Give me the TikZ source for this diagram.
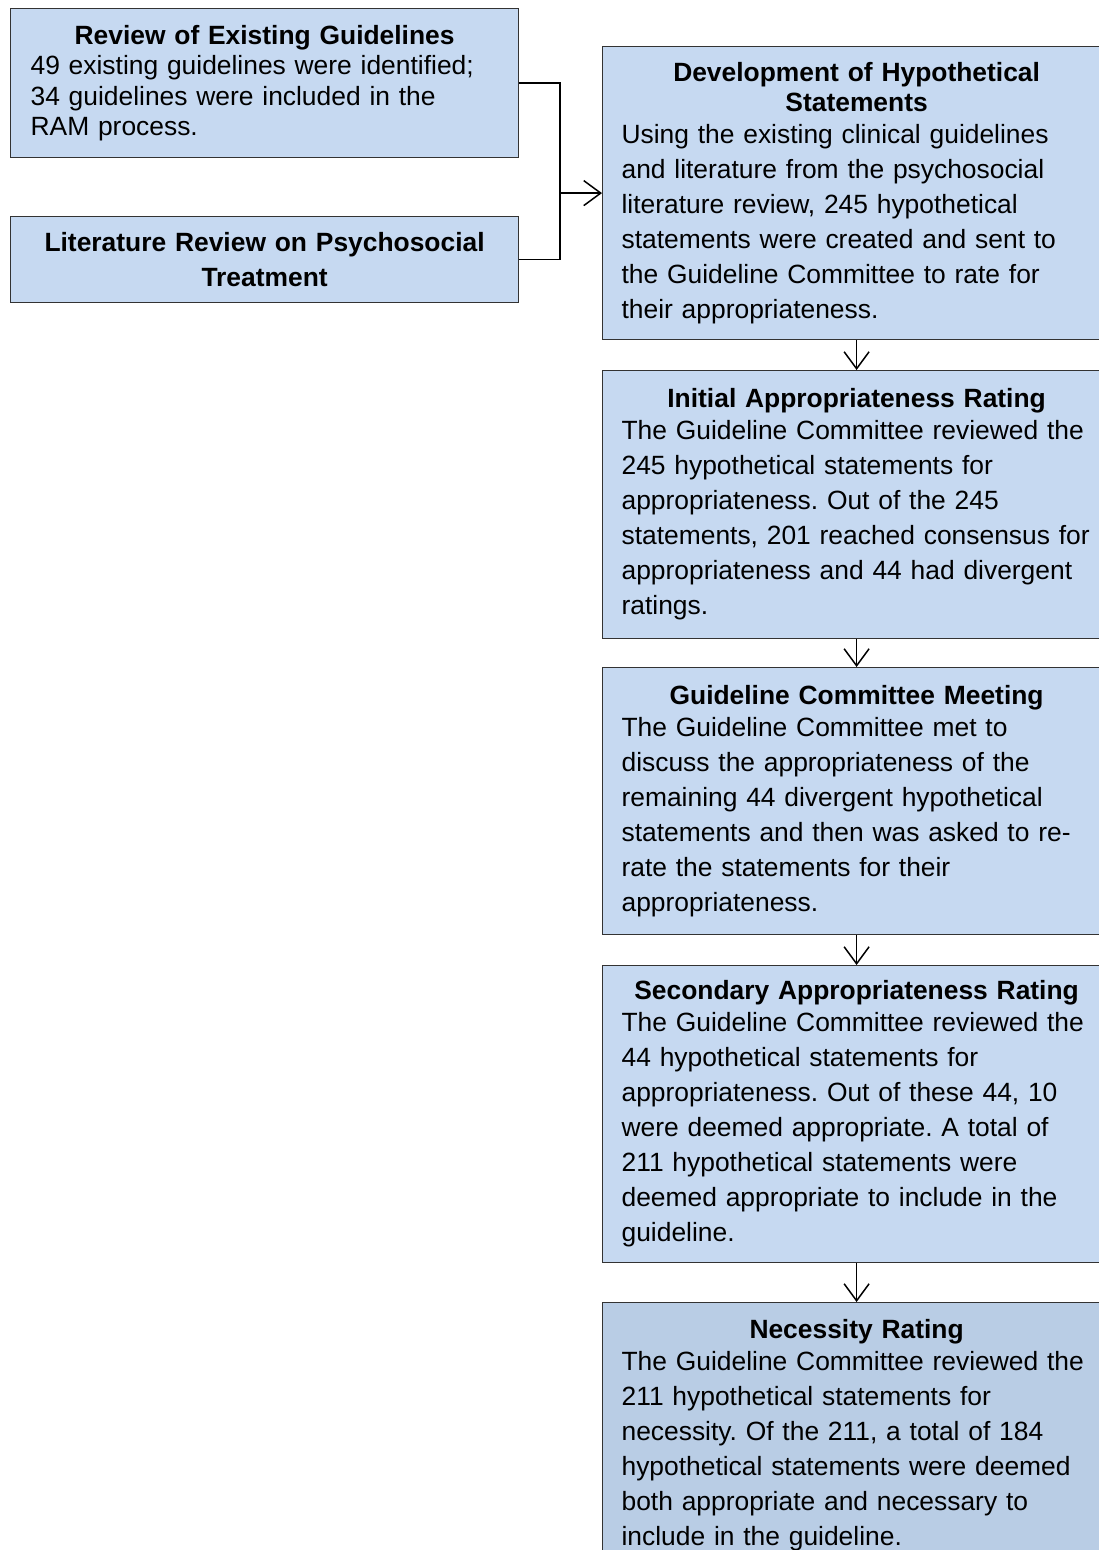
\documentclass[tikz,border=0pt]{standalone}
\usepackage{fontspec}
\setmainfont{Liberation Sans}
\usetikzlibrary{arrows.meta}
\definecolor{stagefill}{HTML}{C6D9F1}
\definecolor{needfill}{HTML}{B9CDE5}
\newcommand{\boxtitle}[1]{\makebox[\linewidth]{\bfseries #1}}
\frenchspacing

\begin{document}
\begin{tikzpicture}
[x=1pt,y=-1pt,
  stage/.style={shape=rectangle,draw=black!80,line width=1.2pt,fill=stagefill,
    anchor=north west,align=left,inner ysep=2pt},
  source/.style={stage,minimum width=508pt,text width=468pt,inner xsep=20pt},
  phase/.style={stage,minimum width=506pt,text width=470pt,inner xsep=19pt,
    font=\fontsize{26.4}{35}\selectfont},
  needphase/.style={phase,fill=needfill},
  link/.style={draw=black,line width=1.5pt},
  flow/.style={link,-{Straight Barb[length=17pt,width=25pt,line width=1.5pt]}}]

\useasboundingbox (0,0) rectangle (1099,1550);

\node [source,minimum height=149pt,font=\fontsize{26.4}{30.5}\selectfont] (guide) at (10,8)
  {\boxtitle{Review of Existing Guidelines}\\
   49 existing guidelines were identified;\\
   34 guidelines were included in the\\
   RAM process.};
\node [source,minimum height=86pt,font=\fontsize{26.4}{35}\selectfont] (lit) at (10,216)
  {\boxtitle{Literature Review on Psychosocial}\\
   \boxtitle{Treatment}};

\node [phase,minimum height=293pt] (dev) at (602,46)
  {\boxtitle{Development of Hypothetical}\\[-5pt]
   \boxtitle{Statements}\\[-3pt]
   Using the existing clinical guidelines\\
   and literature from the psychosocial\\
   literature review, 245 hypothetical\\
   statements were created and sent to\\
   the Guideline Committee to rate for\\
   their appropriateness.};
\node [phase,minimum height=268pt] (init) at (602,370)
  {\boxtitle{Initial Appropriateness Rating}\\[-3pt]
   The Guideline Committee reviewed the\\
   245 hypothetical statements for\\
   appropriateness. Out of the 245\\
   statements, 201 reached consensus for\\
   appropriateness and 44 had divergent\\
   ratings.};
\node [phase,minimum height=267pt] (meet) at (602,667)
  {\boxtitle{Guideline Committee Meeting}\\[-3pt]
   The Guideline Committee met to\\
   discuss the appropriateness of the\\
   remaining 44 divergent hypothetical\\
   statements and then was asked to re-\\
   rate the statements for their\\
   appropriateness.};
\node [phase,minimum height=297pt] (second) at (602,965)
  {\boxtitle{Secondary Appropriateness Rating}\\[-3pt]
   The Guideline Committee reviewed the\\
   44 hypothetical statements for\\
   appropriateness. Out of these 44, 10\\
   were deemed appropriate. A total of\\
   211 hypothetical statements were\\
   deemed appropriate to include in the\\
   guideline.};
\node [needphase,minimum height=265pt] (need) at (602,1302)
  {\boxtitle{Necessity Rating}\\[-3pt]
   The Guideline Committee reviewed the\\
   211 hypothetical statements for\\
   necessity. Of the 211, a total of 184\\
   hypothetical statements were deemed\\
   both appropriate and necessary to\\
   include in the guideline.};

\coordinate (merge) at ([xshift=-42pt]dev.west);
\draw [link] (guide.east) -| (merge) |- (lit.east);
\draw [flow] (merge) -- (dev.west);
\foreach \a/\b in {dev/init,init/meet,meet/second,second/need}
  \draw [flow] (\a.south) -- (\b.north);
\end{tikzpicture}
\end{document}
